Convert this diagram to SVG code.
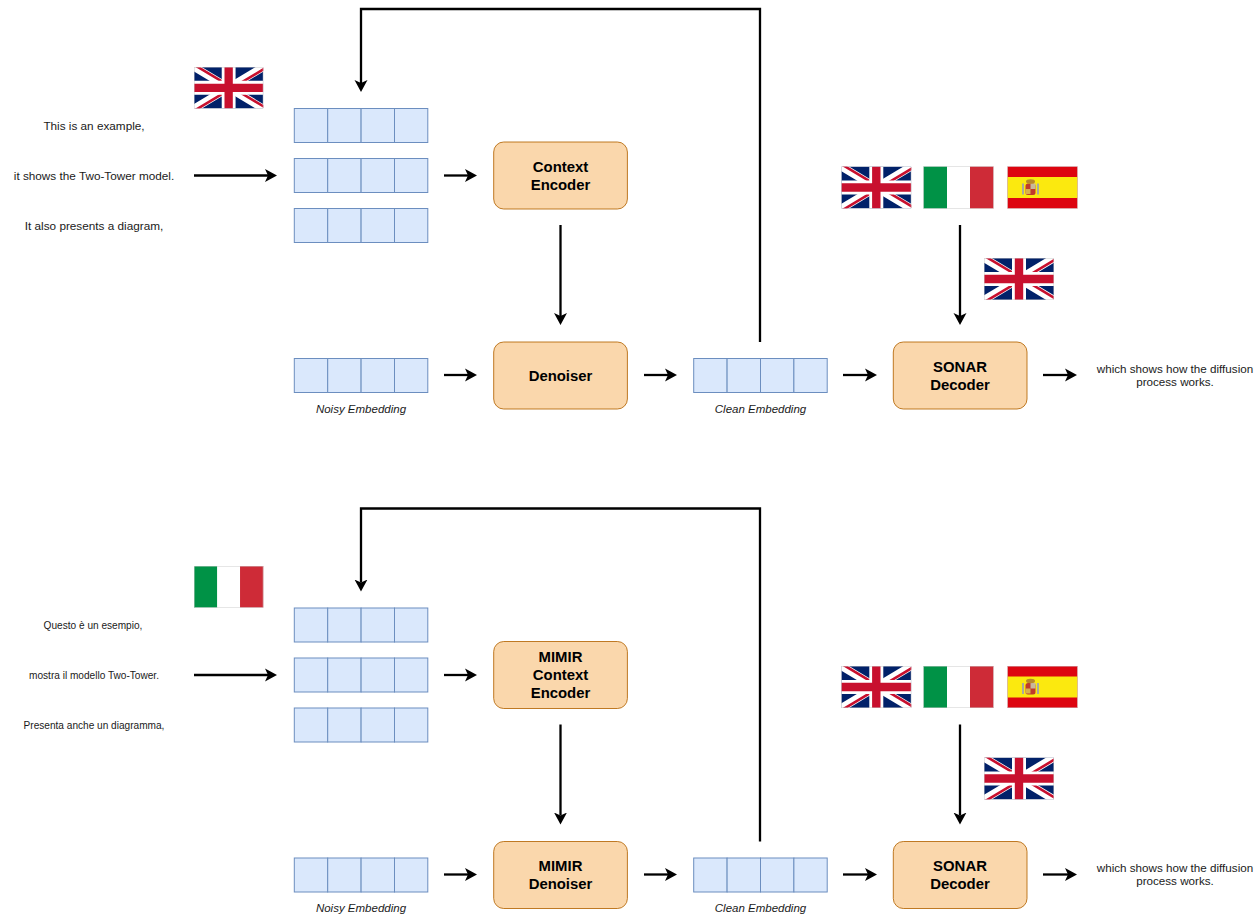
<svg xmlns="http://www.w3.org/2000/svg" width="1260" height="916" viewBox="0 0 1260 916">
<style>
text{font-family:"Liberation Sans",Arial,sans-serif;fill:#1a1a1a;text-anchor:middle;dominant-baseline:central}
.box{fill:#fad7ac;stroke:#b46504;stroke-width:1;stroke-opacity:.85}
.cell{fill:#dae8fc;stroke:#6c8ebf;stroke-width:1}
.lbl{font-size:14.9px;font-weight:bold;fill:#000}
.en{font-size:11.75px}
.it{font-size:10.1px}
.cap{font-size:11.5px;font-style:italic}
.out{font-size:11.65px}
.c{fill:none;stroke:#000;stroke-width:2.3;marker-end:url(#a)}
</style>
<defs>
<marker id="a" markerUnits="userSpaceOnUse" markerWidth="14" markerHeight="14" viewBox="0 -7 14 14" refX="3" refY="0" orient="auto"><path d="M0-6.5L12 0L0 6.5L3 0Z" fill="#000"/></marker>
<g id="emb"><rect class="cell" x="0" y="0" width="33.4" height="34"/><rect class="cell" x="33.4" y="0" width="33.4" height="34"/><rect class="cell" x="66.8" y="0" width="33.4" height="34"/><rect class="cell" x="100.2" y="0" width="33.3" height="34"/></g>
<clipPath id="uk"><rect width="70" height="42"/></clipPath>
<g id="fuk" clip-path="url(#uk)"><rect width="70" height="42" fill="#012169"/><path d="M0 0L70 42M70 0L0 42" stroke="#fff" stroke-width="8"/><path d="M0 0L35 21M70 42L35 21" stroke="#c8102e" stroke-width="2.6" transform="translate(1.2 -1.6)"/><path d="M70 0L35 21M0 42L35 21" stroke="#c8102e" stroke-width="2.6" transform="translate(1.2 1.6)"/><path d="M35 0V42M0 21H70" stroke="#fff" stroke-width="14"/><path d="M35 0V42M0 21H70" stroke="#c8102e" stroke-width="8.4"/><rect x=".25" y=".25" width="69.5" height="41.5" fill="none" stroke="#ccc" stroke-width=".5"/></g>
<g id="fit"><rect width="23.5" height="42" fill="#009246"/><rect x="23.5" width="23" height="42" fill="#fff"/><rect x="46.5" width="23.5" height="42" fill="#ce2b37"/><rect x=".25" y=".25" width="69.5" height="41.5" fill="none" stroke="#ccc" stroke-width=".5"/></g>
<g id="fes"><rect width="70" height="42" fill="#dd0510"/><rect y="10.5" width="70" height="21" fill="#fbe90f"/><rect x="14.5" y="17" width="2" height="11" fill="#a9a9a0"/><rect x="29.5" y="17" width="2" height="11" fill="#a9a9a0"/><rect x="18" y="17" width="10" height="11.5" rx="2.5" fill="#c03a2b"/><rect x="23" y="17" width="5" height="5.5" fill="#c8b89a"/><rect x="18" y="22.5" width="5" height="5" fill="#d8b24a"/><ellipse cx="23" cy="15" rx="4.5" ry="2.2" fill="#b8892c"/><rect x=".25" y=".25" width="69.5" height="41.5" fill="none" stroke="#ccc" stroke-width=".5"/></g>
</defs>
<rect width="1260" height="916" fill="#fff"/>
<g id="connectors">
<path class="c" d="M194 175.5H268"/>
<path class="c" d="M444 175.5H468"/>
<path class="c" d="M560.5 225V316"/>
<path class="c" d="M444 375H468"/>
<path class="c" d="M644 375H668"/>
<path class="c" d="M843 375H868"/>
<path class="c" d="M1043 375H1068"/>
<path class="c" d="M960 225V316"/>
<path class="c" d="M760 342V9H361V83"/>
<path class="c" d="M194 675H268"/>
<path class="c" d="M444 675H468"/>
<path class="c" d="M560.5 724.5V815.5"/>
<path class="c" d="M444 874.5H468"/>
<path class="c" d="M644 874.5H668"/>
<path class="c" d="M843 874.5H868"/>
<path class="c" d="M1043 874.5H1068"/>
<path class="c" d="M960 724.5V815.5"/>
<path class="c" d="M760 841.5V508.5H361V582.5"/>
</g>
<g id="top-flag-source"><use href="#fuk" transform="translate(194 67) scale(.99)"/></g>
<g id="top-text-1"><text class="en" x="94" y="125.4">This is an example,</text></g>
<g id="top-text-2"><text class="en" x="94" y="175.4">it shows the Two-Tower model.</text></g>
<g id="top-text-3"><text class="en" x="94" y="225.4">It also presents a diagram,</text></g>
<g id="top-emb-1"><use href="#emb" x="294.3" y="108.5"/></g>
<g id="top-emb-2"><use href="#emb" x="294.3" y="158.5"/></g>
<g id="top-emb-3"><use href="#emb" x="294.3" y="208.5"/></g>
<g id="top-context-encoder"><rect class="box" x="493.7" y="142" width="133.7" height="67" rx="10"/><text class="lbl" x="560.5" y="167">Context</text><text class="lbl" x="560.5" y="185">Encoder</text></g>
<g id="top-noisy"><use href="#emb" x="294.3" y="358.5"/><text class="cap" x="361" y="408.5">Noisy Embedding</text></g>
<g id="top-denoiser"><rect class="box" x="493.7" y="342" width="133.7" height="67" rx="10"/><text class="lbl" x="560.5" y="376">Denoiser</text></g>
<g id="top-clean"><use href="#emb" x="693.7" y="358.5"/><text class="cap" x="760.5" y="408.5">Clean Embedding</text></g>
<g id="top-sonar"><rect class="box" x="893.3" y="342" width="133.7" height="67" rx="10"/><text class="lbl" x="960" y="367">SONAR</text><text class="lbl" x="960" y="385">Decoder</text></g>
<g id="top-flags"><use href="#fuk" x="841.3" y="166.5"/><use href="#fit" x="923.5" y="166.5"/><use href="#fes" x="1007.5" y="166.5"/></g>
<g id="top-flag-target"><use href="#fuk" x="984" y="258"/></g>
<g id="top-output"><text class="out" x="1175" y="368.4">which shows how the diffusion</text><text class="out" x="1175" y="381.4">process works.</text></g>

<g id="bot-flag-source"><use href="#fit" transform="translate(194 566) scale(.99)"/></g>
<g id="bot-text-1"><text class="it" x="93" y="625">Questo è un esempio,</text></g>
<g id="bot-text-2"><text class="it" x="94" y="675">mostra il modello Two-Tower.</text></g>
<g id="bot-text-3"><text class="it" x="94" y="725">Presenta anche un diagramma,</text></g>
<g id="bot-emb-1"><use href="#emb" x="294.3" y="608"/></g>
<g id="bot-emb-2"><use href="#emb" x="294.3" y="658"/></g>
<g id="bot-emb-3"><use href="#emb" x="294.3" y="708"/></g>
<g id="bot-context-encoder"><rect class="box" x="493.7" y="641.5" width="133.7" height="67" rx="10"/><text class="lbl" x="560.5" y="657">MIMIR</text><text class="lbl" x="560.5" y="675">Context</text><text class="lbl" x="560.5" y="693">Encoder</text></g>
<g id="bot-noisy"><use href="#emb" x="294.3" y="858"/><text class="cap" x="361" y="908">Noisy Embedding</text></g>
<g id="bot-denoiser"><rect class="box" x="493.7" y="841.5" width="133.7" height="67" rx="10"/><text class="lbl" x="560.5" y="866">MIMIR</text><text class="lbl" x="560.5" y="884">Denoiser</text></g>
<g id="bot-clean"><use href="#emb" x="693.7" y="858"/><text class="cap" x="760.5" y="908">Clean Embedding</text></g>
<g id="bot-sonar"><rect class="box" x="893.3" y="841.5" width="133.7" height="67" rx="10"/><text class="lbl" x="960" y="866">SONAR</text><text class="lbl" x="960" y="884">Decoder</text></g>
<g id="bot-flags"><use href="#fuk" x="841.3" y="666"/><use href="#fit" x="923.5" y="666"/><use href="#fes" x="1007.5" y="666"/></g>
<g id="bot-flag-target"><use href="#fuk" x="984" y="757.5"/></g>
<g id="bot-output"><text class="out" x="1175" y="867.9">which shows how the diffusion</text><text class="out" x="1175" y="880.9">process works.</text></g>
</svg>
